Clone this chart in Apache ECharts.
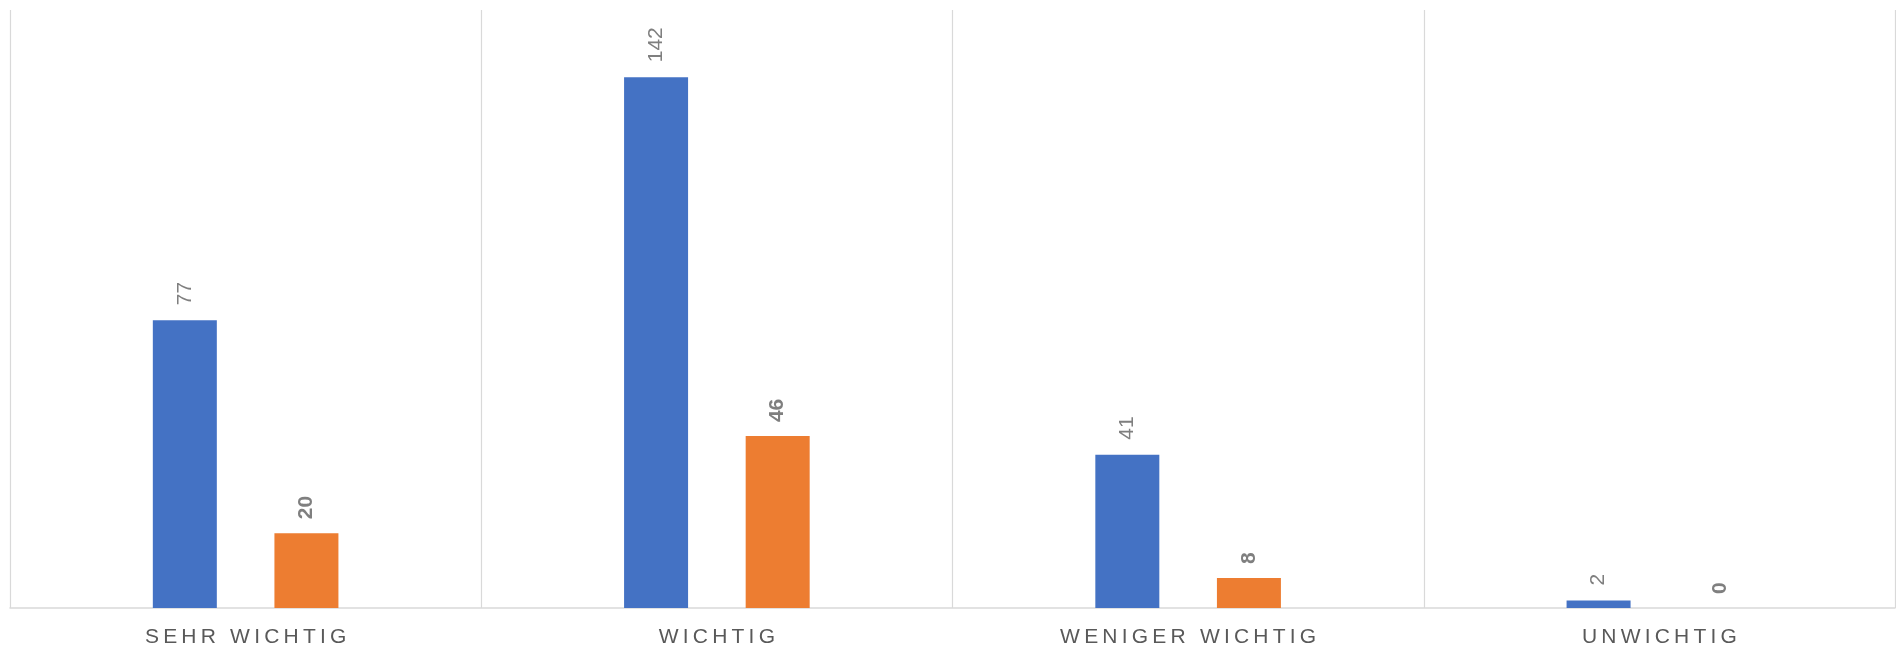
<!DOCTYPE html>
<html>
<head>
<meta charset="utf-8">
<script src="https://cdn.jsdelivr.net/npm/echarts@6/dist/echarts.min.js"></script>
<style>
html,body{margin:0;padding:0;background:#fff;}
#chart{width:1896px;height:650px;}
</style>
</head>
<body>
<div id="chart"></div>
<script>
var categories = ['SEHR WICHTIG', 'WICHTIG', 'WENIGER WICHTIG', 'UNWICHTIG'];
var seriesA = [77, 142, 41, 2];
var seriesB = [20, 46, 8, 0];

function spaced(s) { return s.split('').join('\u2009'); }

var chart = echarts.init(document.getElementById('chart'), null, {renderer: 'canvas'});
chart.setOption({
  animation: false,
  backgroundColor: '#ffffff',
  grid: {left: 10, right: 1, top: 10, bottom: 42, containLabel: false},
  xAxis: {
    type: 'category',
    data: categories,
    boundaryGap: true,
    axisLine: {show: true, lineStyle: {color: '#d9d9d9', width: 1.5}},
    axisTick: {show: false},
    splitLine: {show: true, interval: 0, lineStyle: {color: '#d9d9d9', width: 1.2}},
    axisLabel: {
      interval: 0,
      margin: 19,
      color: '#595959',
      fontFamily: 'Liberation Sans, Arial, sans-serif',
      fontSize: 21,
      formatter: function (v) { return spaced(v); }
    }
  },
  yAxis: {
    type: 'value',
    min: 0,
    max: 160,
    show: false,
    splitLine: {show: false}
  },
  series: [
    {
      type: 'bar',
      data: seriesA,
      barWidth: 64,
      barGap: '90%',
      itemStyle: {color: '#4472C4'},
      label: {
        show: true,
        position: 'top',
        rotate: 90,
        align: 'left',
        verticalAlign: 'middle',
        distance: 15,
        color: '#7f7f7f',
        fontFamily: 'Liberation Sans, Arial, sans-serif',
        fontSize: 21
      }
    },
    {
      type: 'bar',
      data: seriesB,
      barWidth: 64,
      barGap: '90%',
      itemStyle: {color: '#ED7D31'},
      label: {
        show: true,
        position: 'top',
        rotate: 90,
        align: 'left',
        verticalAlign: 'middle',
        distance: 14,
        color: '#7f7f7f',
        fontWeight: 'bold',
        fontFamily: 'Liberation Sans, Arial, sans-serif',
        fontSize: 21
      }
    }
  ]
});
</script>
</body>
</html>
